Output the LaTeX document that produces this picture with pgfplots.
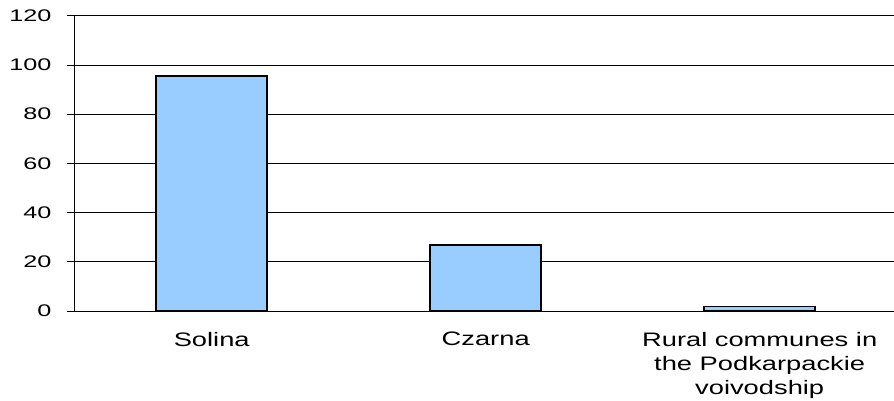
\documentclass[border=0pt]{standalone}
\usepackage{pgfplots}
\pgfplotsset{compat=1.18}
\usepackage{fontspec}
\setmainfont{Liberation Sans}
\newfontfamily\tickfont{Liberation Sans}[FakeStretch=1.5]
\newfontfamily\catfont{Liberation Sans}[FakeStretch=1.4]
\definecolor{barblue}{HTML}{99CCFF}

\begin{document}
\begin{tikzpicture}
\begin{axis}[
  scale only axis,
  width=822bp, height=295.3bp,
  xmin=-0.5, xmax=2.5,
  ymin=0, ymax=120,
  axis lines=left,
  axis line style={-, black, line width=1bp},
  ytick={0,20,...,120},
  yticklabels={0,20,40,60,80,100,120},
  ymajorgrids,
  grid style={black, line width=0.8bp},
  xtick={0,1,2},
  xticklabels={Solina, Czarna, {Rural communes in\\the Podkarpackie\\voivodship}},
  minor xtick={-0.5,0.5,1.5,2.5},
  tick align=outside,
  major tick length=8bp,
  minor tick length=6bp,
  xtick style={draw=none},
  minor tick style={black, line width=0.8bp},
  ytick style={black, line width=0.8bp},
  yticklabel style={font=\tickfont\fontsize{16.8bp}{20bp}\selectfont, inner sep=0pt, anchor=east, xshift=-15bp},
  xticklabel style={font=\catfont\fontsize{19.5bp}{24bp}\selectfont, align=center, inner sep=0pt, anchor=north, yshift=-13bp},
  clip=false,
]
\addplot[ybar, bar width=111bp, fill=barblue, draw=black, line width=1.6bp]
  coordinates {(0,95.4) (1,26.8) (2,1.9)};
\end{axis}
\pgfresetboundingbox
\path[use as bounding box] (-74.7bp,-90bp) rectangle (819.3bp,311bp);
\end{tikzpicture}
\end{document}
